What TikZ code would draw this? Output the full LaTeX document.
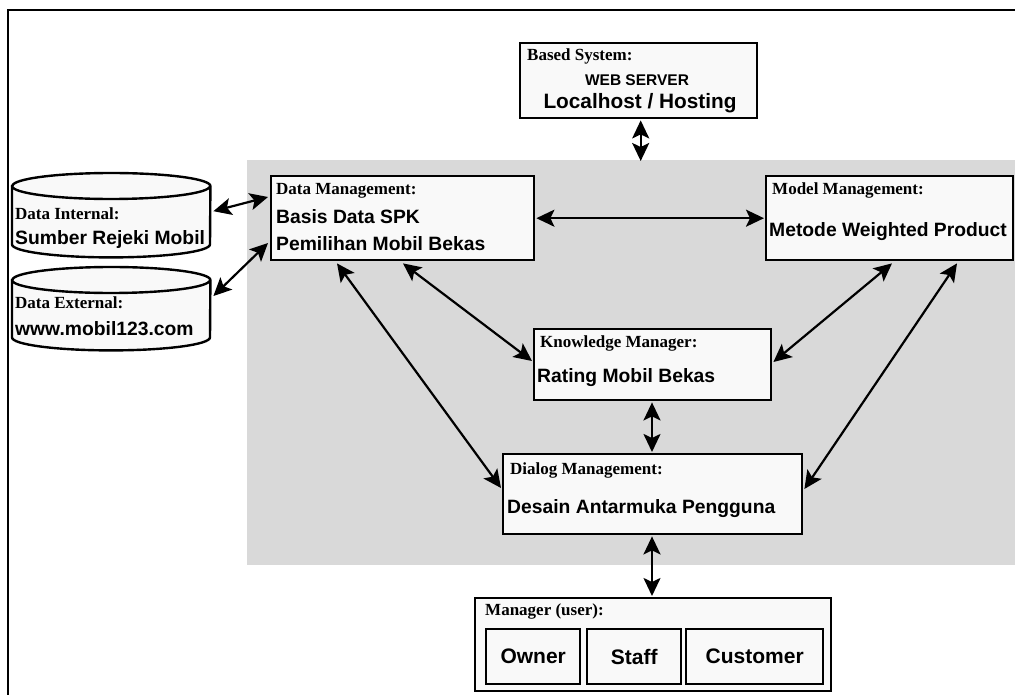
\documentclass[tikz,border=0pt]{standalone}
\usepackage{fontspec}
\setmainfont{Liberation Serif}
\setsansfont{Liberation Sans}
\usetikzlibrary{arrows.meta,calc}

\definecolor{panel}{HTML}{D9D9D9}
\definecolor{boxfill}{HTML}{F9F9F9}

\newcommand{\tagfont}{\rmfamily\bfseries\fontsize{17}{20}\selectfont}
\newcommand{\bodyfont}{\sffamily\bfseries\fontsize{19.3}{23}\selectfont}

\tikzset{
  x=1pt, y=-1pt,
  box/.style={draw, line width=2.4pt, fill=boxfill, inner sep=0pt, anchor=north west},
  tagtext/.style={font=\tagfont, anchor=base west, inner sep=0pt},
  bodytext/.style={font=\bodyfont, anchor=base west, inner sep=0pt},
  tip/.tip={Stealth[length=18pt,width=17pt,inset=4pt]},
  link/.style={line width=2.2pt, tip-tip},
  drum/.style={draw, line width=2.4pt, fill=boxfill},
}

\begin{document}
\begin{tikzpicture}
\useasboundingbox (0,0) rectangle (1015,695);

% outer frame (left and top edges)
\draw[line width=2.4pt] (8,695) -- (8,10) -- (1015,10);

% shaded DSS core
\node[fill=panel, inner sep=0pt, anchor=north west, minimum width=768pt, minimum height=405pt] (core) at (247,160) {};

% web server
\node[box, minimum width=237pt, minimum height=75pt] (web) at (519,42) {};
\node[tagtext] (webtag) at (527,61) {Based System:};
\node[font=\sffamily\bfseries\fontsize{15.5}{18}\selectfont, anchor=base, inner sep=0pt] (webname) at (637,86) {WEB SERVER};
\node[font=\sffamily\bfseries\fontsize{20.8}{24}\selectfont, anchor=base, inner sep=0pt] (webhost) at (640,109) {Localhost / Hosting};

% data management
\node[box, minimum width=263pt, minimum height=84pt] (dm) at (270,175) {};
\node[tagtext] (dmtag) at (276,195) {Data Management:};
\node[bodytext] (dm1) at (276,224) {Basis Data SPK};
\node[bodytext] (dm2) at (276,251) {Pemilihan Mobil Bekas};

% model management
\node[box, minimum width=247pt, minimum height=84pt] (mm) at (765,175) {};
\node[tagtext] (mmtag) at (772,195) {Model Management:};
\node[bodytext] (mm1) at (769,237) {Metode Weighted Product};

% knowledge manager
\node[box, minimum width=237pt, minimum height=71pt] (km) at (533,328) {};
\node[tagtext] (kmtag) at (540,347) {Knowledge Manager:};
\node[bodytext] (km1) at (537,382) {Rating Mobil Bekas};

% dialog management
\node[box, minimum width=299pt, minimum height=80pt] (dlg) at (502,453) {};
\node[tagtext] (dlgtag) at (510,474) {Dialog Management:};
\node[bodytext] (dlg1) at (507,513) {Desain Antarmuka Pengguna};

% users
\node[box, minimum width=356pt, minimum height=93pt] (mgr) at (474,597) {};
\node[tagtext] (mgrtag) at (485,615) {Manager (user):};
\node[box, minimum width=94pt, minimum height=55pt, font=\sffamily\bfseries\fontsize{21}{24}\selectfont] (owner) at (485,628) {Owner};
\node[box, minimum width=94pt, minimum height=55pt, font=\sffamily\bfseries\fontsize{21}{24}\selectfont] (staff) at (586,628) {Staff};
\node[box, minimum width=137pt, minimum height=55pt, font=\sffamily\bfseries\fontsize{21}{24}\selectfont] (cust) at (685,628) {Customer};

% data sources (cylinders)
\node[inner sep=0pt, anchor=north west, minimum width=198pt, minimum height=84pt] (di) at (12,173) {};
\node[inner sep=0pt, anchor=north west, minimum width=198pt, minimum height=83pt] (de) at (12,267) {};
\foreach \c in {di,de}{
  \draw[drum] ($(\c.north west)+(0,13)$) -- ($(\c.south west)+(0,-13)$)
     arc[start angle=180, end angle=360, x radius=99pt, y radius=13pt]
     -- ($(\c.north east)+(0,13)$)
     arc[start angle=0, end angle=180, x radius=99pt, y radius=13pt] -- cycle;
  \draw[line width=2.4pt] ($(\c.north west)+(0,13)$)
     arc[start angle=180, end angle=360, x radius=99pt, y radius=13pt];
}
\node[tagtext] (ditag) at (15,220) {Data Internal:};
\node[bodytext] (di1) at (15,244) {Sumber Rejeki Mobil};
\node[tagtext] (detag) at (15,308) {Data External:};
\node[bodytext] (de1) at (15,335) {www.mobil123.com};

% connectors
\draw[link] ($(web.south)+(2,1)$) -- ($(web.south |- core.north)+(2,1)$);
\draw[link] ($(di.east)+(3,-4)$) -- ($(dm.north west)+(-2,22)$);
\draw[link] ($(de.north east)+(3,29)$) -- ($(dm.north west)+(-2,68)$);
\draw[link] ($(dm.east)+(1,0)$) -- ($(mm.west)+(-1,0)$);
\draw[link] ($(dm.south west)+(67,2)$) -- ($(dlg.north west)+(-1,35)$);
\draw[link] ($(dm.south west)+(133,2)$) -- ($(km.north west)+(-1,33)$);
\draw[link] ($(mm.south west)+(127,2)$) -- ($(km.north east)+(1,34)$);
\draw[link] ($(mm.south west)+(192,2)$) -- ($(dlg.north east)+(1,36)$);
\draw[link] ($(km.south west)+(119,1)$) -- ($(dlg.north west)+(150,-1)$);
\draw[link] ($(dlg.south west)+(150,1)$) -- ($(mgr.north west)+(178,-1)$);
\end{tikzpicture}
\end{document}
